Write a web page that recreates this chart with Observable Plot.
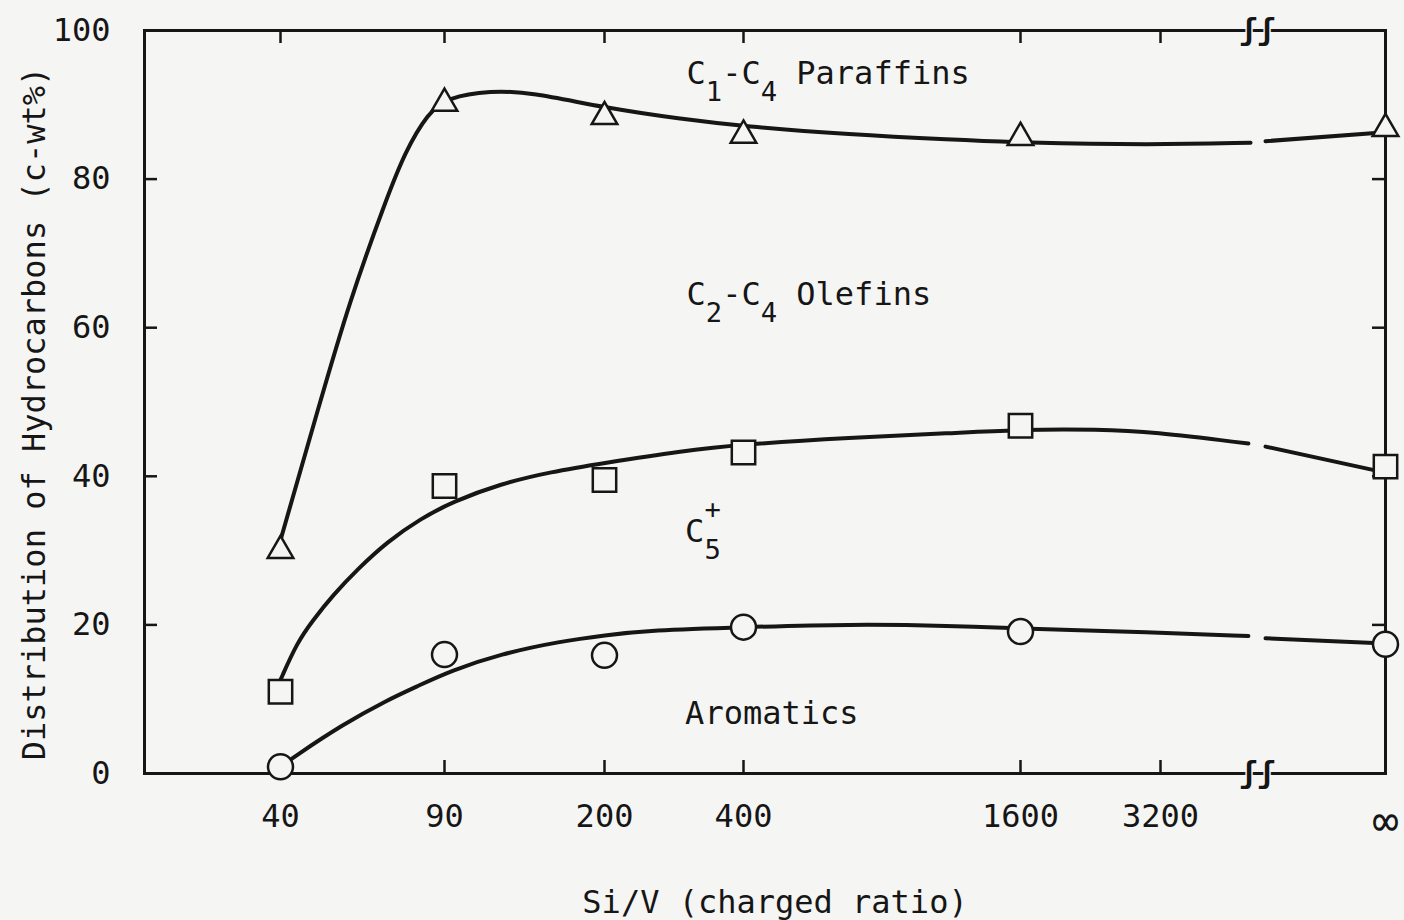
<!DOCTYPE html>
<html><head><meta charset="utf-8">
<script src="https://cdn.jsdelivr.net/npm/d3@7"></script>
<script src="https://cdn.jsdelivr.net/npm/@observablehq/plot@0.6"></script>
<style>body{margin:0;background:#f5f5f3;} svg{display:block}</style>
</head><body><div id="chart"></div>
<script>
// ---- data ----
const INF = 12800;   // stands for Si/V = ∞
const BREAK = 6400;  // axis break between 3200 and ∞
const xTicks = [40, 90, 200, 400, 1600, 3200, INF];
const xTickLabels = ["40", "90", "200", "400", "1600", "3200", "∞"];
const yTicks = [0, 20, 40, 60, 80, 100];

// measured points (cumulative c-wt%)
const siV = [40, 90, 200, 400, 1600, INF];
const olefinTop = [30.0, 90.2, 88.4, 85.9, 85.6, 86.8];  // triangles
const c5Top = [11.0, 38.7, 39.5, 43.2, 46.8, 41.3];      // squares
const aromatics = [0.9, 16.0, 15.9, 19.7, 19.1, 17.4];    // circles

// hand-drawn fitted curves (null = axis break)
const triCurveX = [40, 52, 61, 72, 78, 85, 92, 122, 149, 200, 309, 400, 860, 1300, 1600, 3100, 6170, 6400, 6800, INF];
const triCurveY = [31.4, 49.9, 63.5, 77.0, 83.7, 88.9, 91.0, 91.9, 91.7, 89.6, 88.1, 87.1, 86.0, 85.3, 84.9, 84.6, 84.9, null, 85.1, 86.3];
const sqCurveX = [40, 45, 50, 56, 63.5, 72.6, 82.7, 96, 128.5, 163, 200, 309, 400, 860, 1300, 1600, 2500, 3100, 6100, 6400, 6800, INF];
const sqCurveY = [12.6, 17.6, 20.7, 24.0, 27.5, 31.2, 34.3, 36.6, 39.0, 40.6, 41.8, 43.4, 44.3, 45.2, 45.8, 46.3, 46.3, 46.0, 44.4, null, 44.0, 40.5];
const ciCurveX = [40, 44, 59, 72.6, 82, 94, 128.5, 170, 200, 266, 400, 860, 1300, 1600, 3100, 6100, 6400, 6800, INF];
const ciCurveY = [0.9, 2.2, 6.6, 9.9, 11.8, 13.8, 16.1, 17.8, 18.6, 19.3, 19.7, 20.1, 19.9, 19.5, 19.0, 18.5, null, 18.2, 17.5];

// region labels
const labelText = ["C_1-C_4 Paraffins", "C_2-C_4 Olefins", "C_5^+", "Aromatics"];
const labelX = [318, 318, 316, 316];
const labelY = [94.2, 64.4, 32.5, 8.1];

const xTitle = "Si/V (charged ratio)";
const yTitle = "Distribution of Hydrocarbons (c-wt%)";

// ---- layout ----
const W = 1404, H = 920;
const mL = 144, mR = 19, mT = 30, mB = 147;
const pw = W - mL - mR, ph = H - mT - mB;
const ink = "#161616", bg = "#f5f5f3";
const font = "'DejaVu Sans Mono', monospace";

const pts = (xs, ys) => xs.map((x, i) => ({x, y: ys[i]}));
const inner = a => a.slice(1, -1);

const chart = Plot.plot({
  width: W, height: H,
  marginLeft: mL, marginRight: mR, marginTop: mT, marginBottom: mB,
  style: {fontFamily: font, fontSize: "32px", background: bg, color: ink},
  x: {type: "linear", domain: [40, 90, 200, 400, 1600, 3200, BREAK, INF],
      range: [280, 444, 604, 743, 1020, 1160, 1257, 1385]},
  y: {domain: [0, 100]},
  marks: [
    Plot.axisX({ticks: xTicks, tickFormat: d => xTickLabels[xTicks.indexOf(d)], tickSize: 0, tickPadding: 31, fill: ink, label: null}),
    Plot.axisY({ticks: yTicks, tickSize: 0, tickPadding: 34, fill: ink, label: null}),
    Plot.tickY(inner(yTicks), {y: d => d, insetRight: pw - 13, stroke: ink, strokeWidth: 2.5}),
    Plot.tickY(inner(yTicks), {y: d => d, insetLeft: pw - 13, stroke: ink, strokeWidth: 2.5}),
    Plot.tickX(xTicks.slice(0, -1), {x: d => d, insetTop: ph - 13, stroke: ink, strokeWidth: 2.5}),
    Plot.tickX(xTicks.slice(0, -1), {x: d => d, insetBottom: ph - 13, stroke: ink, strokeWidth: 2.5}),
    Plot.frame({stroke: ink, strokeWidth: 3}),
    Plot.text([BREAK], {x: d => d, frameAnchor: "top", lineAnchor: "middle", text: () => "ʃʃ", fontSize: 30, fontWeight: "bold", fill: ink, stroke: bg, strokeWidth: 3}),
    Plot.text([BREAK], {x: d => d, frameAnchor: "bottom", lineAnchor: "middle", text: () => "ʃʃ", fontSize: 30, fontWeight: "bold", fill: ink, stroke: bg, strokeWidth: 3}),
    Plot.line(pts(triCurveX, triCurveY), {x: "x", y: "y", curve: "basis", stroke: ink, strokeWidth: 4}),
    Plot.line(pts(sqCurveX, sqCurveY), {x: "x", y: "y", curve: "basis", stroke: ink, strokeWidth: 4}),
    Plot.line(pts(ciCurveX, ciCurveY), {x: "x", y: "y", curve: "basis", stroke: ink, strokeWidth: 4}),
    Plot.dot(pts(siV, olefinTop), {x: "x", y: "y", symbol: "triangle", r: 9.5, fill: bg, stroke: ink, strokeWidth: 2.5}),
    Plot.dot(pts(siV, c5Top), {x: "x", y: "y", symbol: "square", r: 13.2, fill: bg, stroke: ink, strokeWidth: 2.5}),
    Plot.dot(pts(siV, aromatics), {x: "x", y: "y", symbol: "circle", r: 12.5, fill: bg, stroke: ink, strokeWidth: 2.5}),
    Plot.text(labelText, {x: (d, i) => labelX[i], y: (d, i) => labelY[i], text: d => d, textAnchor: "start", fill: ink}),
    Plot.text([xTitle], {frameAnchor: "bottom", lineAnchor: "middle", textAnchor: "middle", text: d => d, dx: 10, dy: 129, fill: ink}),
    Plot.text([yTitle], {frameAnchor: "left", lineAnchor: "middle", textAnchor: "middle", text: d => d, rotate: -90, dx: -110, dy: 11.5, fill: ink})
  ]
});

// sub/superscripts in region labels, larger infinity sign
const NS = "http://www.w3.org/2000/svg";
chart.querySelectorAll("text").forEach(t => {
  const s = t.textContent;
  if (s === "∞") { t.setAttribute("font-size", "44"); return; }
  if (!/[_^]/.test(s)) return;
  t.textContent = "";
  let shift = 0, i = 0, prevSub = false;
  while (i < s.length) {
    const c = s[i];
    const ts = document.createElementNS(NS, "tspan");
    if (c === "_" || c === "^") {
      const target = c === "_" ? 17 : -24;
      ts.setAttribute("font-size", "0.85em");
      if (c === "^" && prevSub) ts.setAttribute("dx", "-0.602em");
      ts.setAttribute("dy", target - shift);
      shift = target;
      ts.textContent = s[i + 1];
      prevSub = c === "_";
      i += 2;
    } else {
      let j = i;
      while (j < s.length && s[j] !== "_" && s[j] !== "^") j++;
      ts.setAttribute("dy", -shift);
      shift = 0;
      ts.textContent = s.slice(i, j);
      prevSub = false;
      i = j;
    }
    t.appendChild(ts);
  }
});

document.getElementById("chart").appendChild(chart);
</script>
</body></html>
